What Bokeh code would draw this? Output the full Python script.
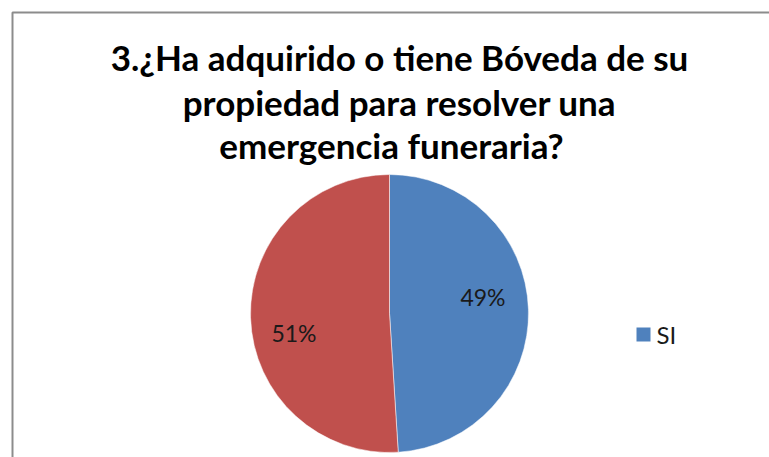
import math
from bokeh.plotting import figure
from bokeh.models import Range1d, ColumnDataSource
from bokeh.core.properties import value
from bokeh.embed import file_html
from bokeh.resources import INLINE

# ---- data ----
title_lines = ["3.¿Ha adquirido o tiene Bóveda de su",
               "propiedad para resolver una",
               "emergencia funeraria?"]
categories = ["SI", ""]
values = [49, 51]
colors = ["#4F81BD", "#C0504D"]
legend_labels = ["SI"]

W, H = 769, 457
p = figure(width=W, height=H, output_backend="svg", toolbar_location=None,
           x_range=Range1d(0, W), y_range=Range1d(0, H), min_border=0)
p.axis.visible = False
p.grid.visible = False
p.outline_line_color = None
p.background_fill_color = "white"
p.border_fill_color = "white"

def py(page_y):
    return H - page_y

def px(page_x):
    return page_x

# chart border (top & left visible)
p.line(x=[px(12), px(12), W], y=[0, py(12), py(12)], line_color="#8C8C8C", line_width=2)

# title
font = value("Lato")
title_x = [px(399), px(399), px(391)]
title_y = [py(56), py(101), py(144)]
p.text(x=title_x, y=title_y, text=title_lines, text_font=font, text_font_style="bold",
       text_font_size="35px", text_align="center", text_baseline="middle", text_color="#000000")

# pie
total = sum(values)
starts, ends = [], []
acc = 0.0
for v in values:
    a0 = math.pi / 2 - 2 * math.pi * acc / total
    acc += v
    a1 = math.pi / 2 - 2 * math.pi * acc / total
    starts.append(a1)
    ends.append(a0)
cx, cy, r = px(389), py(313), 139
src = ColumnDataSource(dict(start=starts, end=ends, color=colors, cat=categories, val=values))
p.wedge(x=cx, y=cy, radius=r, radius_units="screen", start_angle="start", end_angle="end",
        fill_color="color", line_color="white", line_alpha=0.5, line_width=1, source=src)

# percentage labels
lab_x = [px(482.5), px(293.5)]
lab_y = [py(296), py(332)]
lab_text = [f"{v}%" for v in values]
p.text(x=lab_x, y=lab_y, text=lab_text, text_font=value("Lato"), text_font_size="23px",
       text_align="center", text_baseline="middle", text_color="#1a1a1a")

# legend
p.scatter(x=[px(643)], y=[py(334)], marker="square", size=14, fill_color=colors[0], line_color=None)
p.text(x=[px(656)], y=[py(334)], text=legend_labels, text_font=value("Lato"), text_font_size="24px",
       text_align="left", text_baseline="middle", text_color="#1a1a1a")

open("out.html", "w").write(file_html(p, INLINE))
